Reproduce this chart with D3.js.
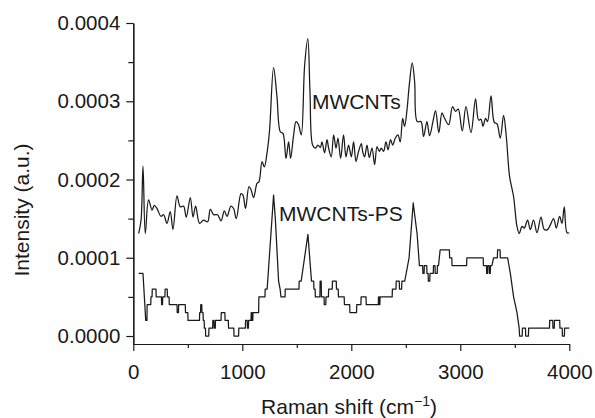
<!DOCTYPE html>
<html><head><meta charset="utf-8">
<script src="https://cdn.jsdelivr.net/npm/d3@7"></script>
<style>
body{margin:0;background:#fff}
svg{display:block}
text{font-family:"Liberation Sans",Arial,Helvetica,sans-serif;fill:#1a1a1a}
</style>
</head><body>
<svg id="c" width="595" height="418"></svg>
<script>
// ---- data ----
const xTicks = [0, 1000, 2000, 3000, 4000];
const xMinorTicks = [500, 1500, 2500, 3500];
const yTicks = [0, 0.0001, 0.0002, 0.0003, 0.0004];
const yMinorTicks = [0.00005, 0.00015, 0.00025, 0.00035];
const seriesLabels = ["MWCNTs", "MWCNTs-PS"];

const mwcntsShift = [49,71,89,110,140,172,193,217,254,278,309,339,364,401,431,461,486,523,548,572,608,645,682,706,737,773,805,835,860,896,920,945,988,1006,1030,1061,1080,1104,1135,1153,1181,1202,1227,1250,1287,1318,1349,1373,1401,1425,1443,1471,1493,1516,1541,1572,1601,1621,1645,1670,1694,1716,1731,1755,1777,1792,1816,1838,1860,1878,1902,1929,1951,1975,2000,2021,2043,2067,2092,2104,2122,2144,2165,2190,2214,2236,2257,2275,2296,2318,2337,2360,2379,2404,2428,2449,2471,2489,2511,2532,2559,2581,2605,2639,2663,2694,2718,2749,2773,2803,2832,2853,2893,2929,2957,2981,3018,3052,3098,3140,3168,3190,3208,3232,3250,3282,3312,3337,3367,3397,3422,3452,3489,3520,3541,3566,3587,3617,3642,3672,3704,3740,3771,3801,3826,3856,3881,3911,3933,3954,3979,4000];
const mwcntsIntensity = [1.31e-4,1.48e-4,2.17e-4,1.31e-4,1.74e-4,1.61e-4,1.67e-4,1.63e-4,1.53e-4,1.55e-4,
1.44e-4,1.59e-4,1.36e-4,1.79e-4,1.65e-4,1.66e-4,1.52e-4,1.77e-4,1.52e-4,1.66e-4,
1.44e-4,1.48e-4,1.46e-4,1.62e-4,1.55e-4,1.55e-4,1.47e-4,1.60e-4,1.53e-4,1.66e-4,
1.63e-4,1.50e-4,1.82e-4,1.80e-4,1.63e-4,1.91e-4,1.87e-4,1.77e-4,1.95e-4,1.97e-4,
2.23e-4,2.16e-4,2.34e-4,2.63e-4,3.43e-4,3.06e-4,2.61e-4,2.59e-4,2.27e-4,2.48e-4,
2.27e-4,2.57e-4,2.74e-4,2.70e-4,2.57e-4,3.46e-4,3.80e-4,3.12e-4,2.44e-4,2.40e-4,
2.44e-4,2.41e-4,2.48e-4,2.34e-4,2.51e-4,2.40e-4,2.29e-4,2.57e-4,2.40e-4,2.53e-4,
2.27e-4,2.57e-4,2.29e-4,2.44e-4,2.29e-4,2.48e-4,2.23e-4,2.36e-4,2.46e-4,2.36e-4,
2.29e-4,2.44e-4,2.28e-4,2.40e-4,2.19e-4,2.42e-4,2.36e-4,2.40e-4,2.36e-4,2.48e-4,
2.38e-4,2.51e-4,2.44e-4,2.53e-4,2.57e-4,2.48e-4,2.78e-4,2.68e-4,2.89e-4,3.21e-4,
3.49e-4,3.25e-4,2.74e-4,2.74e-4,2.55e-4,2.74e-4,2.56e-4,2.74e-4,2.88e-4,2.60e-4,
2.85e-4,2.79e-4,2.70e-4,2.93e-4,2.87e-4,2.90e-4,2.62e-4,2.93e-4,2.60e-4,3.03e-4,
2.76e-4,2.77e-4,2.68e-4,2.78e-4,2.74e-4,3.07e-4,2.73e-4,2.71e-4,2.53e-4,2.82e-4,
2.55e-4,2.04e-4,1.78e-4,1.40e-4,1.31e-4,1.40e-4,1.38e-4,1.48e-4,1.36e-4,1.48e-4,
1.32e-4,1.52e-4,1.36e-4,1.36e-4,1.42e-4,1.50e-4,1.38e-4,1.53e-4,1.44e-4,1.65e-4,
1.32e-4,1.32e-4];

const psShift = [49,89,114,125,127,160,162,172,174,208,210,258,260,268,270,290,292,311,313,328,330,401,403,414,416,477,479,500,502,607,609,617,619,628,630,640,642,650,652,662,664,692,694,728,730,740,742,752,754,805,807,840,842,872,874,922,924,966,968,1028,1030,1045,1047,1056,1058,1080,1082,1088,1090,1096,1098,1150,1152,1208,1210,1228,1287,1303,1333,1347,1355,1392,1394,1520,1522,1540,1602,1635,1655,1657,1668,1670,1712,1714,1724,1726,1750,1752,1766,1768,1790,1792,1825,1827,1862,1864,1880,1882,1935,1937,1985,1987,2048,2050,2088,2090,2135,2137,2248,2249,2254,2255,2262,2264,2375,2377,2410,2412,2440,2442,2462,2464,2490,2530,2568,2604,2625,2655,2657,2668,2670,2692,2694,2705,2707,2720,2722,2752,2754,2768,2770,2788,2790,2800,2815,2900,2902,2922,2924,3058,3060,3210,3212,3240,3242,3250,3252,3265,3267,3275,3277,3290,3305,3340,3342,3365,3367,3434,3459,3489,3520,3540,3544,3568,3570,3598,3600,3625,3627,3818,3820,3848,3850,3862,3864,3912,3914,3935,3937,3955,3957,4000];
const psIntensity = [8e-5,8e-5,2e-5,2e-5,4e-5,4e-5,5e-5,5e-5,6e-5,6e-5,5e-5,5e-5,4e-5,4e-5,5e-5,5e-5,6e-5,6e-5,5e-5,5e-5,4e-5,4e-5,3e-5,3e-5,4e-5,4e-5,3e-5,3e-5,2e-5,2e-5,3e-5,3e-5,4e-5,4e-5,3e-5,3e-5,2e-5,2e-5,1e-5,1e-5,0,0,1e-5,1e-5,2e-5,2e-5,1e-5,1e-5,2e-5,2e-5,3e-5,3e-5,2e-5,2e-5,1e-5,1e-5,0,0,1e-5,1e-5,2e-5,2e-5,1e-5,1e-5,2e-5,2e-5,3e-5,3e-5,2e-5,2e-5,3e-5,3e-5,5e-5,5e-5,6e-5,6e-5,18e-5,15e-5,7e-5,6e-5,5e-5,5e-5,6e-5,6e-5,7e-5,7e-5,13e-5,7e-5,7e-5,6e-5,6e-5,5e-5,5e-5,7e-5,7e-5,5e-5,5e-5,4e-5,4e-5,5e-5,5e-5,6e-5,6e-5,7e-5,7e-5,6e-5,6e-5,5e-5,5e-5,4e-5,4e-5,3e-5,3e-5,4e-5,4e-5,5e-5,5e-5,4e-5,4e-5,5e-5,5e-5,4e-5,4e-5,5e-5,5e-5,6e-5,6e-5,7e-5,7e-5,6e-5,6e-5,7e-5,7e-5,10e-5,17e-5,13e-5,9e-5,9e-5,8e-5,8e-5,9e-5,9e-5,8e-5,8e-5,7e-5,7e-5,8e-5,8e-5,9e-5,9e-5,8e-5,8e-5,9e-5,9e-5,11e-5,11e-5,10e-5,10e-5,9e-5,9e-5,10e-5,10e-5,9e-5,9e-5,8e-5,8e-5,9e-5,9e-5,8e-5,8e-5,9e-5,9e-5,10e-5,10e-5,11e-5,11e-5,10e-5,10e-5,8e-5,5e-5,3e-5,1e-5,0,0,1e-5,1e-5,0,0,1e-5,1e-5,2e-5,2e-5,1e-5,1e-5,2e-5,2e-5,1e-5,1e-5,0,0,1e-5,1e-5];

// ---- chart ----
const svg = d3.select("#c");
const x = d3.scaleLinear().domain([0, 4000]).range([133.3, 569.3]);
const y = d3.scaleLinear().domain([-1.02e-5, 4e-4]).range([344, 23]);
const ink = "#1a1a1a";

function styleAxis(g){
  g.select(".domain").attr("stroke", ink).attr("stroke-width", 1.2);
  g.selectAll(".tick line").attr("stroke", ink).attr("stroke-width", 1.2);
  g.selectAll(".tick text").attr("fill", ink).style("font-size", "20.5px").attr("font-family", null);
}

// minor ticks
svg.append("g").attr("transform", "translate(0,344)")
  .call(d3.axisBottom(x).tickValues(xMinorTicks).tickSize(4).tickSizeOuter(0).tickFormat(""))
  .call(styleAxis);
svg.append("g").attr("transform", "translate(133.3,0)")
  .call(d3.axisLeft(y).tickValues(yMinorTicks).tickSize(5).tickSizeOuter(0).tickFormat(""))
  .call(styleAxis);

svg.append("g").attr("transform", "translate(0,344)")
  .call(d3.axisBottom(x).tickValues(xTicks).tickSize(7).tickPadding(13).tickSizeOuter(0).tickFormat(d3.format("d")))
  .call(styleAxis);
svg.append("g").attr("transform", "translate(133.3,0)")
  .call(d3.axisLeft(y).tickValues(yTicks).tickSize(7).tickPadding(6).tickSizeOuter(0).tickFormat(d3.format(".4f")))
  .call(styleAxis);

const upper = mwcntsShift.map((s, i) => [s, mwcntsIntensity[i]]);
const lower = psShift.map((s, i) => [s, psIntensity[i]]);
const smoothLine = d3.line().x(d => x(d[0])).y(d => y(d[1])).curve(d3.curveCatmullRom.alpha(0.5));
const stepLine = d3.line().x(d => x(d[0])).y(d => y(d[1]));

svg.append("path").datum(upper).attr("d", smoothLine)
  .attr("fill", "none").attr("stroke", ink).attr("stroke-width", 1.25).attr("stroke-linejoin", "round");
svg.append("path").datum(lower).attr("d", stepLine)
  .attr("fill", "none").attr("stroke", ink).attr("stroke-width", 1.25).attr("stroke-linejoin", "round");

svg.append("text").attr("x", 312).attr("y", 108.5).style("font-size", "21px").text(seriesLabels[0]);
svg.append("text").attr("x", 279).attr("y", 221).style("font-size", "21px").text(seriesLabels[1]);

// axis titles
svg.append("text").attr("transform", "translate(29,210) rotate(-90)")
  .attr("text-anchor", "middle").style("font-size", "21px").text("Intensity (a.u.)");
const xt = svg.append("text").attr("x", 349).attr("y", 414).attr("text-anchor", "middle").style("font-size", "21px");
xt.append("tspan").text("Raman shift (cm");
xt.append("tspan").attr("dy", -8).style("font-size", "14px").text("\u22121");
xt.append("tspan").attr("dy", 8).text(")");
</script>
</body></html>
